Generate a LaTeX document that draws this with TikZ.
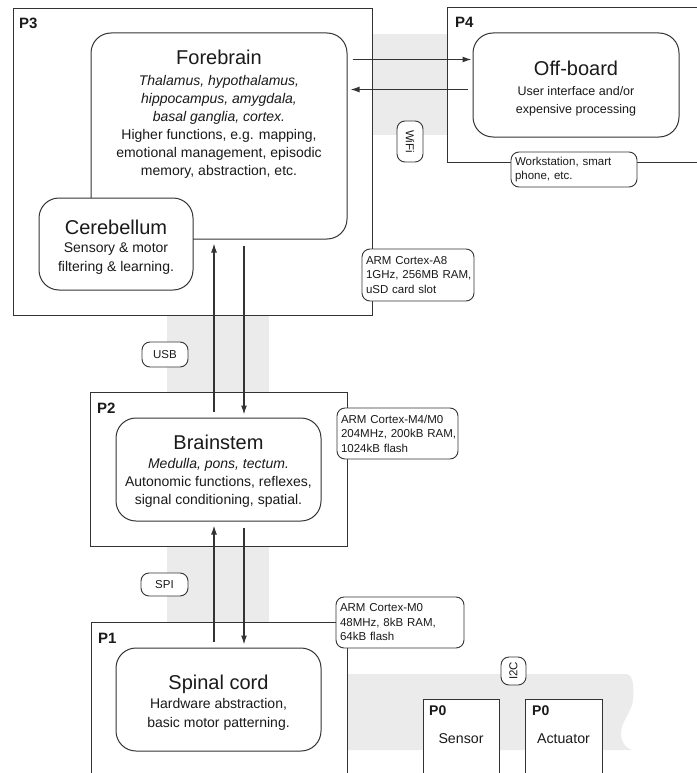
\documentclass[tikz,border=0pt]{standalone}
\usepackage{fontspec}
\setmainfont{Liberation Sans}
\usetikzlibrary{arrows.meta}
\definecolor{ln}{HTML}{333333}
\definecolor{band}{HTML}{EBEBEB}
\definecolor{txt}{HTML}{1A1A1A}
\begin{document}
\begin{tikzpicture}[x=1pt,y=-1pt,
  every node/.style={text=txt},
  plat/.style={draw=ln, line width=1pt, fill=white, inner sep=0pt},
  rbox/.style={draw=ln, line width=1pt, fill=white, rounded corners=20pt, inner sep=0pt},
  tag/.style={draw=ln, line width=0.9pt, fill=white, rounded corners=8pt, inner ysep=0pt, inner xsep=4pt, align=left, font=\fontsize{11.5}{14.5}\selectfont},
  ptag/.style={draw=ln, line width=0.9pt, fill=white, rounded corners=8pt, inner sep=0pt, font=\fontsize{11.5}{14}\selectfont},
  ttl/.style={anchor=base, inner sep=0pt, font=\fontsize{20}{24}\selectfont},
  body/.style={anchor=north, inner sep=0pt, align=center, font=\fontsize{14}{18}\selectfont},
  plab/.style={anchor=base west, inner sep=0pt, font=\fontsize{15}{18}\selectfont\bfseries},
  arr/.style={draw=ln, line width=1.3pt, -{Latex[length=9pt,width=6pt]}},
  lin/.style={draw=ln, line width=1.2pt}
]
\useasboundingbox (0,0) rectangle (696,773);
\fill[white] (0,0) rectangle (696,773);

% grey bands (busses)
\fill[band] (340,34) rectangle (480,135);
\fill[band] (167,300) rectangle (269,640);
\fill[band] (340,674) -- (626,674) .. controls (634,674) and (634,690) .. (633,700)
  .. controls (632,712) and (620,722) .. (621,735)
  .. controls (622,745) and (628,749) .. (632,750) -- (340,750) -- cycle;

% platforms
\node[plat, minimum width=359pt, minimum height=306pt] (p3) at (192.5,162) {};
\path[plat] (700,8) -- (447,8) -- (447,162) -- (700,162);
\node[plat, minimum width=257pt, minimum height=154pt] (p2) at (218.5,469) {};
\path[plat] (347,775) -- (347,622) -- (91,622) -- (91,775);
\path[plat] (423,775) -- (423,699) -- (499,699) -- (499,775);
\path[plat] (525,775) -- (525,699) -- (602,699) -- (602,775);

\node[plab] (p3l) at (19,29) {P3};
\node[plab] (p4l) at (455,28) {P4};
\node[plab] (p2l) at (97,413) {P2};
\node[plab] (p1l) at (98,643) {P1};
\node[plab, font=\fontsize{14}{16}\selectfont\bfseries] (p0a) at (429,715) {P0};
\node[plab, font=\fontsize{14}{16}\selectfont\bfseries] (p0b) at (532,715) {P0};
\node[anchor=base, inner sep=0pt, font=\fontsize{14.2}{17}\selectfont] (sensor) at (461,743) {Sensor};
\node[anchor=base, inner sep=0pt, font=\fontsize{14.2}{17}\selectfont] (actuator) at (563.5,743) {Actuator};

% brain modules
\node[rbox, minimum width=256pt, minimum height=206pt] (fore) at (219,136) {};
\node[ttl] (foret) at (219,65) {Forebrain};
\node[body] (foreb) at (219,74.8) {{\itshape Thalamus, hypothalamus,}\\{\itshape hippocampus, amygdala,}\\{\itshape basal ganglia, cortex.}\\Higher functions, e.g. mapping,\\emotional management, episodic\\memory, abstraction, etc.};

\node[rbox, minimum width=154pt, minimum height=92pt] (cereb) at (116,244) {};
\node[ttl] (cerebt) at (116,234) {Cerebellum};
\node[body, font=\fontsize{14}{19}\selectfont] (cerebb) at (116,242.8) {Sensory \& motor\\filtering \& learning.};

\node[rbox, minimum width=206pt, minimum height=104pt] (off) at (576,85) {};
\node[ttl] (offt) at (576,76) {Off-board};
\node[body, font=\fontsize{12.5}{18}\selectfont] (offb) at (576,85.9) {User interface and/or\\expensive processing};

\node[rbox, minimum width=205pt, minimum height=103pt] (brain) at (218.5,469.5) {};
\node[ttl] (braint) at (218.5,449) {Brainstem};
\node[body] (brainb) at (218.5,457.8) {{\itshape Medulla, pons, tectum.}\\Autonomic functions, reflexes,\\signal conditioning, spatial.};

\node[rbox, minimum width=205pt, minimum height=103pt] (spinal) at (218.5,699.5) {};
\node[ttl] (spinalt) at (218.5,689) {Spinal cord};
\node[body, font=\fontsize{14}{19}\selectfont] (spinalb) at (218.5,697.8) {Hardware abstraction,\\basic motor patterning.};

% connectors
\draw[arr] ([shift={(5,27)}]fore.north east) -- ([shift={(-1,27)}]off.north west);
\draw[arr] ([shift={(-5,57)}]off.north west) -- ([shift={(3,57)}]fore.north east);
\draw[arr] ([shift={(-4.5,-6)}]brain.north) -- ([shift={(-5,4)}]fore.south);
\draw[arr] ([shift={(25,6)}]fore.south) -- ([shift={(25.5,-3)}]brain.north);
\draw[arr] ([shift={(-4.5,-6)}]spinal.north) -- ([shift={(-4.5,4)}]brain.south);
\draw[arr] ([shift={(25.5,6)}]brain.south) -- ([shift={(25.5,-3)}]spinal.north);

% tags
\node[tag, text width=104pt, minimum height=52pt] (a8) at (418,275) {\mbox{ARM Cortex-A8}\\\mbox{1GHz, 256MB RAM,}\\\mbox{uSD card slot}};
\node[tag, text width=113pt, minimum height=51pt] (m4) at (397.5,433.5) {\mbox{ARM Cortex-M4/M0}\\\mbox{204MHz, 200kB RAM,}\\\mbox{1024kB flash}};
\node[tag, text width=120pt, minimum height=51pt] (m0) at (400,622.5) {\mbox{ARM Cortex-M0}\\\mbox{48MHz, 8kB RAM,}\\\mbox{64kB flash}};
\node[tag, text width=118pt, minimum height=35pt, font=\fontsize{11.5}{14}\selectfont] (ws) at (574,169.5) {\mbox{Workstation, smart}\\\mbox{phone, etc.}};
\node[ptag, minimum width=46pt, minimum height=25pt] (usb) at (165,354.5) {USB};
\node[ptag, minimum width=47pt, minimum height=23pt] (spi) at (164.5,584.5) {SPI};
\node[ptag, minimum width=41pt, minimum height=26pt, rotate=-90] (wifi) at (410,141.5) {WiFi};
\node[ptag, minimum width=28pt, minimum height=25pt, rotate=90] (i2c) at (513.5,671) {I2C};
\end{tikzpicture}
\end{document}
